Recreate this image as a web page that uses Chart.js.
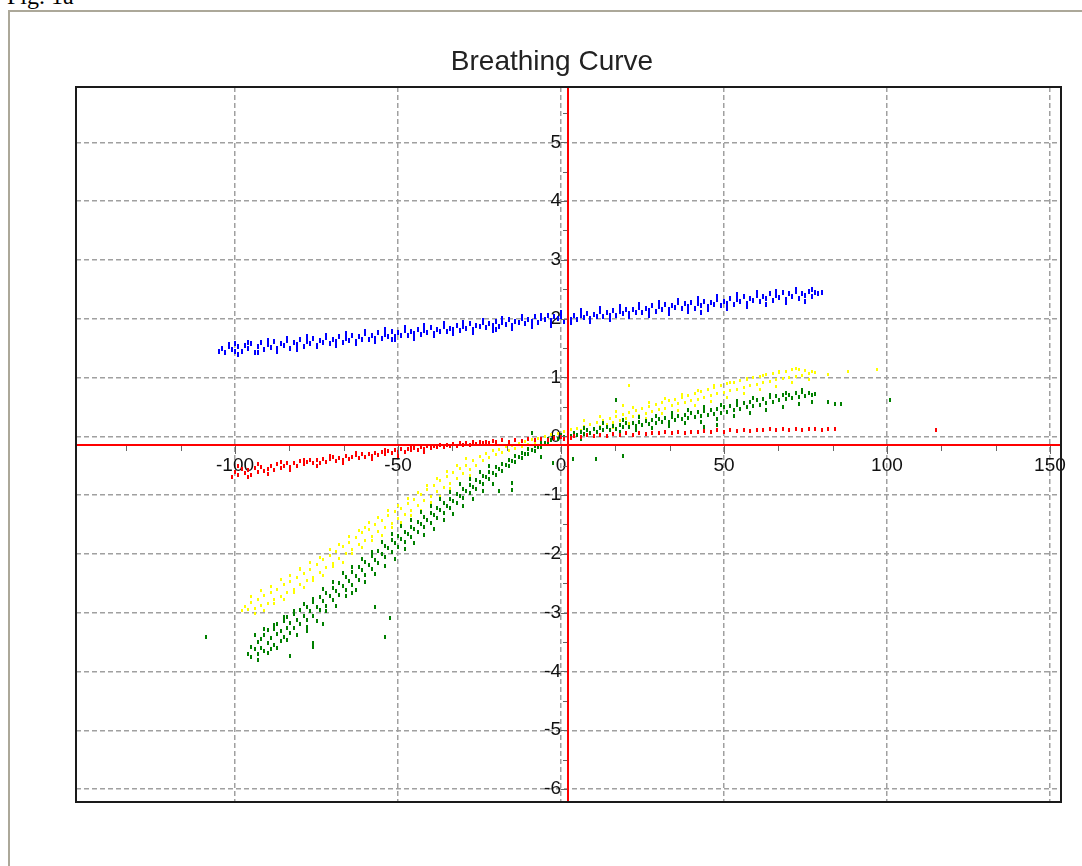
<!DOCTYPE html>
<html>
<head>
<meta charset="utf-8">
<title>Breathing Curve</title>
<script src="https://cdn.jsdelivr.net/npm/chart.js@4/dist/chart.umd.min.js"></script>
<style>
  html, body { margin: 0; padding: 0; background: #fff; overflow: hidden; }
  #fig { position: absolute; left: 7px; top: -16px; font: 24px "Liberation Serif", "Times New Roman", serif; line-height: 24px; color: #000; }
  #frame { position: absolute; left: 8px; top: 10px; width: 1200px; height: 1000px; border: 2px solid #aca899; }
  #title { position: absolute; left: 0; top: 44px; width: 1104px; text-align: center; font: 28px "Liberation Sans", Arial, sans-serif; line-height: 34px; color: #222; }
  #chart { position: absolute; left: 0; top: 0; }
</style>
</head>
<body>
<div id="fig">Fig. 1a</div>
<div id="frame"></div>
<canvas id="chart" width="1082" height="866"></canvas>
<div id="title">Breathing Curve</div>
<script>
// axis setup
const xTicks = [-100, -50, 0, 50, 100, 150];
const yTicks = [-6, -5, -4, -3, -2, -1, 0, 1, 2, 3, 4, 5];
const xLimits = [-148.8, 153.4];
const yLimits = [-6.22, 5.94];
const crossAt = [2.1, -0.14]; // red cross lines (x, y)

// point clouds, [x, y]
const bluePts = [
  [-105,1.44],[-104,1.50],[-103,1.43],[-102,1.53],[-101,1.47],[-100,1.45],[-100,1.58],[-99,1.52],[-98,1.44],[-97,1.54],
  [-96,1.50],[-95,1.57],[-94,1.43],[-93,1.53],[-92,1.60],[-91,1.48],[-90,1.56],[-89,1.51],[-88,1.62],[-87,1.49],
  [-86,1.58],[-85,1.54],[-84,1.63],[-83,1.50],[-82,1.59],[-81,1.47],[-81,1.56],[-80,1.65],[-79,1.53],[-78,1.61],
  [-77,1.57],[-76,1.67],[-75,1.55],[-74,1.63],[-73,1.59],[-72,1.68],[-71,1.58],[-70,1.65],[-69,1.61],[-68,1.70],
  [-67,1.60],[-66,1.67],[-65,1.63],[-64,1.72],[-63,1.62],[-62,1.69],[-61,1.65],[-60,1.74],[-59,1.64],[-58,1.71],
  [-57,1.67],[-56,1.76],[-55,1.66],[-54,1.73],[-53,1.70],[-52,1.78],[-52,1.65],[-51,1.69],[-50,1.76],[-49,1.72],
  [-48,1.80],[-47,1.71],[-46,1.78],[-45,1.74],[-44,1.82],[-43,1.73],[-42,1.80],[-41,1.77],[-40,1.85],[-39,1.75],
  [-38,1.82],[-37,1.79],[-36,1.87],[-35,1.78],[-34,1.84],[-33,1.81],[-32,1.89],[-31,1.80],[-30,1.87],[-29,1.84],
  [-28,1.91],[-27,1.82],[-26,1.89],[-25,1.86],[-24,1.93],[-23,1.85],[-22,1.91],[-21,1.88],[-20,1.96],[-20,1.81],
  [-19,1.87],[-18,1.94],[-17,1.90],[-16,1.98],[-15,1.89],[-14,1.96],[-13,1.93],[-12,2.00],[-11,1.92],[-10,1.98],
  [-9,1.95],[-8,2.03],[-7,1.94],[-6,2.01],[-5,1.98],[-4,2.05],[-3,1.97],[-2,2.03],[-1,2.00],
  [0,2.04],[1,1.96],[2,2.03],[3,1.99],[4,2.06],[5,1.98],[6,2.05],[7,2.02],[8,2.09],[9,2.01],
  [10,2.07],[11,2.04],[12,2.12],[13,2.03],[14,2.10],[15,2.06],[16,2.14],[17,2.05],[18,2.12],[19,2.09],
  [20,2.16],[21,2.08],[22,2.15],[23,2.11],[24,2.19],[25,2.10],[26,2.17],[27,2.14],[28,2.22],[29,2.12],
  [30,2.20],[31,2.16],[32,2.24],[33,2.15],[34,2.22],[35,2.19],[36,2.27],[37,2.17],[38,2.25],[39,2.21],
  [40,2.28],[41,2.18],[42,2.25],[43,2.10],[43,2.22],[44,2.30],[45,2.20],[46,2.28],[47,2.24],[48,2.33],
  [49,2.22],[50,2.30],[51,2.26],[52,2.35],[53,2.24],[54,2.32],[55,2.29],[56,2.38],[57,2.26],[58,2.35],
  [59,2.31],[60,2.40],[61,2.29],[62,2.37],[63,2.34],[64,2.42],[65,2.31],[66,2.39],[67,2.36],[68,2.44],
  [69,2.33],[70,2.42],[71,2.38],[72,2.46],[73,2.35],[74,2.43],[75,2.40],[76,2.47],[77,2.37],[78,2.44],
  [79,2.42],[80,2.44],
  // upper and lower edge of the band
  [-102,1.56],[-96,1.60],[-90,1.63],[-84,1.66],[-78,1.69],[-72,1.72],[-66,1.75],[-60,1.78],[-54,1.82],[-48,1.85],
  [-42,1.88],[-36,1.91],[-30,1.94],[-24,1.97],[-18,2.00],[-12,2.03],[-6,2.06],[0,2.11],[6,2.14],[12,2.17],
  [18,2.21],[24,2.24],[30,2.27],[36,2.31],[42,2.34],[48,2.37],[54,2.41],[60,2.44],[66,2.47],[72,2.50],[77,2.49],
  [-99,1.39],[-93,1.43],[-87,1.45],[-81,1.49],[-75,1.52],[-69,1.55],[-63,1.58],[-57,1.61],[-51,1.65],[-45,1.67],
  [-39,1.71],[-33,1.74],[-27,1.77],[-21,1.80],[-15,1.83],[-9,1.86],[-3,1.89],[3,1.93],[9,1.96],[15,1.99],
  [21,2.03],[27,2.05],[33,2.09],[39,2.12],[45,2.15],[51,2.18],[57,2.21],[63,2.24],[69,2.27],[75,2.30]
];

const yellowPts = [
  [-98,-2.97],[-97,-2.90],[-96,-2.95],[-95,-2.82],[-94,-2.93],[-93,-2.78],[-92,-2.88],[-91,-2.70],[-90,-2.84],[-89,-2.66],
  [-88,-2.78],[-87,-2.60],[-86,-2.72],[-85,-2.52],[-84,-2.66],[-83,-2.47],[-82,-2.60],[-81,-2.40],[-80,-2.52],[-80,-2.25],
  [-79,-2.33],[-78,-2.45],[-77,-2.27],[-76,-2.40],[-75,-2.18],[-74,-2.32],[-73,-2.10],[-72,-2.24],[-71,-2.02],[-70,-2.16],
  [-69,-1.96],[-68,-2.08],[-67,-1.88],[-66,-2.00],[-65,-1.80],[-64,-1.93],[-63,-1.72],[-62,-1.84],[-61,-1.63],[-60,-1.77],
  [-60,-1.55],[-59,-1.58],[-58,-1.70],[-57,-1.50],[-56,-1.62],[-55,-1.44],[-54,-1.56],[-53,-1.35],[-52,-1.48],[-51,-1.28],
  [-50,-1.40],[-49,-1.22],[-48,-1.33],[-47,-1.14],[-46,-1.26],[-45,-1.07],[-44,-1.18],[-43,-0.99],[-42,-1.10],[-41,-0.90],
  [-40,-1.02],[-39,-0.84],[-38,-0.94],[-37,-0.76],[-36,-0.87],[-35,-0.69],[-34,-0.80],[-33,-0.62],[-32,-0.72],[-31,-0.55],
  [-30,-0.64],[-29,-0.49],[-28,-0.57],[-27,-0.42],[-26,-0.50],[-25,-0.35],[-24,-0.42],[-23,-0.30],[-22,-0.36],[-21,-0.25],
  [-20,-0.31],[-19,-0.22],[-18,-0.28],[-17,-0.18],[-16,-0.24],[-15,-0.15],[-14,-0.21],[-13,-0.12],[-12,-0.17],[-11,-0.09],
  [-10,-0.14],[-9,-0.06],[-8,-0.11],[-7,-0.03],[-6,-0.07],[-5,0.00],[-4,-0.04],[-3,0.03],[-2,-0.01],[-1,0.05],
  [0,0.01],[1,0.08],[2,0.03],[3,0.11],[4,0.07],[5,0.14],[6,0.09],[7,0.17],[8,0.12],[9,0.20],
  [10,0.14],[11,0.23],[12,0.17],[13,0.26],[14,0.20],[15,0.30],[16,0.23],[17,0.33],[18,0.27],[19,0.37],
  [19,0.52],[20,0.30],[21,0.40],[21,0.86],[22,0.33],[23,0.43],[24,0.36],[25,0.47],[26,0.39],[27,0.50],
  [28,0.42],[29,0.54],[30,0.45],[31,0.57],[32,0.48],[33,0.60],[34,0.52],[35,0.63],[36,0.55],[37,0.66],
  [38,0.58],[39,0.70],[40,0.60],[41,0.73],[42,0.63],[43,0.76],[44,0.66],[45,0.80],[46,0.69],[47,0.83],
  [48,0.72],[49,0.86],[50,0.74],[51,0.89],[52,0.77],[53,0.92],[54,0.80],[55,0.95],[56,0.83],[57,0.97],
  [58,0.86],[59,1.00],[60,0.88],[61,1.02],[62,0.91],[63,1.05],[64,0.93],[65,1.07],[66,0.96],[67,1.09],
  [68,0.98],[69,1.11],[70,1.00],[71,1.13],[72,1.02],[73,1.14],[74,1.04],[75,1.12],[76,1.06],[77,1.10],
  [78,1.08],[82,1.05],[88,1.10],[97,1.13],
  // upper and lower edge of the band
  [-95,-2.72],[-92,-2.63],[-89,-2.56],[-86,-2.44],[-83,-2.37],[-80,-2.27],[-77,-2.14],[-74,-2.06],[-71,-1.93],[-68,-1.84],
  [-65,-1.70],[-62,-1.60],[-59,-1.47],[-56,-1.39],[-53,-1.27],[-50,-1.17],[-47,-1.05],[-44,-0.96],[-41,-0.83],[-38,-0.72],
  [-35,-0.60],[-32,-0.50],[-29,-0.38],
  [-94,-3.02],[-91,-2.96],[-88,-2.85],[-85,-2.77],[-82,-2.65],[-79,-2.58],[-76,-2.45],[-73,-2.37],[-70,-2.22],[-67,-2.15],
  [-64,-1.99],[-61,-1.90],[-58,-1.77],[-55,-1.69],[-52,-1.56],[-49,-1.47],[-46,-1.35],[-43,-1.26],[-40,-1.12],[-37,-1.03],
  [-34,-0.89],[-31,-0.80],[-28,-0.66],
  [7,0.26],[12,0.33],[17,0.42],[22,0.49],[27,0.57],[32,0.64],[37,0.71],[42,0.78],[47,0.86],[52,0.92],
  [57,0.99],[62,1.04],[67,1.10],[72,1.15],
  [6,0.00],[11,0.07],[16,0.15],[21,0.22],[26,0.30],[31,0.38],[36,0.44],[41,0.52],[46,0.59],[51,0.66],
  [56,0.73],[61,0.79],[66,0.85],[71,0.91],[76,0.96]
];

const greenPts = [
  [-109,-3.41],[-96,-3.70],[-95,-3.58],[-95,-3.76],[-94,-3.62],[-93,-3.50],[-93,-3.71],[-92,-3.44],[-92,-3.60],[-91,-3.66],
  [-91,-3.38],[-90,-3.52],[-90,-3.30],[-89,-3.61],[-89,-3.43],[-88,-3.28],[-88,-3.55],[-87,-3.37],[-87,-3.20],[-86,-3.48],
  [-86,-3.32],[-85,-3.15],[-85,-3.41],[-84,-3.26],[-84,-3.08],[-83,-3.35],[-83,-3.17],[-83,-3.73],[-82,-3.02],[-82,-3.26],
  [-81,-3.12],[-80,-2.96],[-80,-3.20],[-79,-3.05],[-78,-2.90],[-78,-3.13],[-78,-3.32],[-77,-2.97],[-76,-2.82],[-76,-3.06],
  [-76,-3.52],[-76,-3.58],[-75,-2.90],[-74,-2.74],[-74,-2.96],[-73,-2.81],[-73,-3.19],[-72,-2.66],[-72,-2.88],[-71,-2.72],
  [-70,-2.58],[-70,-2.79],[-69,-2.63],[-68,-2.49],[-68,-2.70],[-67,-2.55],[-66,-2.40],[-66,-2.61],[-65,-2.46],[-64,-2.31],
  [-64,-2.53],[-64,-2.67],[-63,-2.37],[-62,-2.22],[-62,-2.44],[-61,-2.28],[-60,-2.13],[-60,-2.36],[-59,-2.19],[-58,-2.04],
  [-58,-2.26],[-57,-2.10],[-57,-2.90],[-56,-1.95],[-56,-2.16],[-55,-2.00],[-54,-1.86],[-54,-2.06],[-54,-3.41],[-53,-1.90],
  [-52.5,-3.09],[-52,-1.77],[-52,-1.96],[-51,-1.82],[-50,-1.70],[-50,-1.88],[-49,-1.74],[-48,-1.62],[-48,-1.80],[-47,-1.66],
  [-46,-1.54],[-46,-1.72],[-45,-1.58],[-44,-1.46],[-44,-1.63],[-43,-1.50],[-42,-1.38],[-42,-1.55],[-41,-1.42],[-40,-1.31],
  [-40,-1.47],[-39,-1.34],[-38,-1.22],[-38,-1.39],[-37,-1.26],[-36,-1.14],[-36,-1.31],[-35,-1.18],[-34,-1.06],[-34,-1.22],
  [-33,-1.10],[-32,-0.98],[-32,-1.14],[-31,-1.02],[-30,-0.90],[-30,-1.05],[-29,-0.93],[-28,-0.83],[-28,-0.97],[-27,-0.86],
  [-26,-0.75],[-26,-0.89],[-25,-0.78],[-24,-0.68],[-24,-0.81],[-23,-0.70],[-22,-0.60],[-22,-0.73],[-21,-0.63],[-20,-0.53],
  [-20,-0.66],[-19,-0.56],[-19,-0.93],[-18,-0.47],[-18,-0.59],[-17,-0.49],[-16,-0.41],[-16,-0.51],[-15,-0.42],[-15,-0.79],
  [-15,-0.91],[-14,-0.34],[-14,-0.44],[-13,-0.36],[-12,-0.28],[-12,-0.37],[-11,-0.30],[-10,-0.22],[-10,-0.31],[-9,-0.24],
  [-9,0.06],[-8,-0.17],[-8,-0.25],[-7,-0.18],[-6,-0.11],[-6,-0.19],[-6,-0.36],[-5,-0.12],[-4,-0.05],[-4,-0.13],
  [-3,-0.06],[-2.5,-0.45],[-2,-0.01],[-1,-0.04],[0,0.02],[1,-0.01],[2,0.04],[3,0.01],[3.7,-0.38],[4,0.06],
  [5,0.02],[6,0.08],[7,0.04],[8,0.10],[9,0.06],[10,0.12],[10.7,-0.38],[11,0.08],[12,0.14],[13,0.10],
  [14,0.16],[15,0.11],[16,0.18],[17,0.13],[17,0.62],[18,0.20],[19,0.15],[19,-0.33],[20,0.22],[21,0.16],
  [22,0.23],[23,0.18],[24,0.25],[25,0.19],[26,0.26],[27,0.21],[28,0.28],[29,0.22],[30,0.29],[31,0.24],
  [32,0.31],[33,0.25],[34,0.33],[35,0.27],[36,0.35],[37,0.29],[38,0.37],[39,0.31],[40,0.39],[41,0.32],
  [42,0.41],[43,0.34],[44,0.43],[44,0.15],[45,0.36],[46,0.45],[47,0.38],[48,0.47],[48,0.20],[49,0.40],
  [50,0.49],[51,0.42],[52,0.51],[53,0.44],[54,0.53],[55,0.47],[56,0.56],[57,0.49],[58,0.59],[59,0.52],
  [60,0.61],[61,0.54],[62,0.63],[63,0.57],[64,0.66],[65,0.59],[66,0.68],[67,0.61],[68,0.70],[69,0.63],
  [70,0.71],[71,0.65],[72,0.73],[73,0.67],[74,0.75],[75,0.68],[76,0.74],[77,0.70],[78,0.72],[82,0.59],
  [84,0.55],[86,0.55],[101,0.62],
  // upper and lower edge of the band
  [-94,-3.38],[-91,-3.27],[-88,-3.21],[-85,-3.07],[-82,-2.98],[-79,-2.85],[-76,-2.76],[-73,-2.60],[-70,-2.48],[-67,-2.33],
  [-64,-2.23],[-61,-2.09],[-58,-1.97],[-55,-1.80],[-52,-1.67],[-49,-1.53],[-46,-1.42],[-43,-1.29],[-40,-1.19],[-37,-1.06],
  [-34,-0.95],[-31,-0.82],[-28,-0.72],[-25,-0.60],[-22,-0.50],
  [-93,-3.80],[-90,-3.68],[-87,-3.60],[-84,-3.47],[-81,-3.38],[-78,-3.25],[-75,-3.14],[-72,-2.98],[-69,-2.88],[-66,-2.72],
  [-63,-2.62],[-60,-2.47],[-57,-2.35],[-54,-2.20],[-51,-2.08],[-48,-1.92],[-45,-1.82],[-42,-1.68],[-39,-1.57],[-36,-1.43],
  [-33,-1.33],[-30,-1.18],[-27,-1.06],[-24,-0.93],[-21,-0.82],
  [7,0.14],[13,0.22],[19,0.27],[24,0.32],[29,0.35],[34,0.40],[39,0.45],[44,0.49],[49,0.54],[54,0.60],
  [59,0.65],[64,0.70],[69,0.74],[74,0.78],
  [6,-0.04],[12,0.03],[18,0.08],[23,0.10],[28,0.14],[33,0.17],[38,0.22],[43,0.25],[48,0.29],[53,0.34],
  [58,0.39],[63,0.44],[68,0.50],[73,0.55],[77,0.58]
];

const redPts = [
  [-101,-0.70],[-100,-0.60],[-99,-0.66],[-98,-0.56],[-97,-0.63],[-96,-0.58],[-95,-0.66],[-94,-0.54],[-93,-0.61],[-92,-0.52],
  [-91,-0.59],[-90,-0.55],[-89,-0.50],[-88,-0.57],[-87,-0.48],[-86,-0.54],[-85,-0.50],[-84,-0.46],[-83,-0.53],[-82,-0.45],
  [-81,-0.50],[-80,-0.42],[-79,-0.48],[-78,-0.44],[-77,-0.40],[-76,-0.46],[-75,-0.41],[-74,-0.45],[-73,-0.38],[-72,-0.43],
  [-71,-0.39],[-70,-0.36],[-69,-0.42],[-68,-0.37],[-67,-0.40],[-66,-0.34],[-65,-0.39],[-64,-0.35],[-63,-0.32],[-62,-0.37],
  [-61,-0.31],[-60,-0.35],[-59,-0.30],[-58,-0.33],[-57,-0.28],[-56,-0.32],[-55,-0.27],[-54,-0.30],[-53,-0.25],[-52,-0.29],
  [-51,-0.24],[-50,-0.27],[-49,-0.22],[-48,-0.26],[-47,-0.21],[-46,-0.24],[-45,-0.20],[-44,-0.23],[-43,-0.19],[-42,-0.21],
  [-41,-0.17],[-40,-0.20],[-39,-0.16],[-38,-0.19],[-37,-0.15],[-36,-0.18],[-35,-0.14],[-34,-0.17],[-33,-0.13],[-32,-0.16],
  [-31,-0.12],[-30,-0.15],[-29,-0.11],[-28,-0.14],[-27,-0.10],[-26,-0.13],[-25,-0.09],[-24,-0.12],[-23,-0.09],[-22,-0.11],
  [-21,-0.08],[-20,-0.10],[-18,-0.07],[-16,-0.09],[-14,-0.06],[-12,-0.08],[-10,-0.05],[-8,-0.07],[-6,-0.04],[-4,-0.06],
  [-2,-0.03],[0,-0.02],[1,-0.05],[2,-0.08],[3,-0.03],[4,0.01],[6,-0.01],[8,0.02],[10,0.00],[12,0.03],
  [14,0.01],[16,0.04],[18,0.02],[20,0.05],[22,0.03],[24,0.06],[26,0.04],[28,0.06],[30,0.05],[32,0.07],
  [34,0.05],[36,0.08],[38,0.06],[40,0.08],[42,0.07],[44,0.09],[46,0.07],[48,0.10],[50,0.08],[52,0.10],
  [54,0.09],[56,0.11],[58,0.09],[60,0.11],[62,0.10],[64,0.12],[66,0.10],[68,0.12],[70,0.11],[72,0.13],
  [74,0.11],[76,0.12],[78,0.13],[80,0.11],[82,0.12],[84,0.12],[115,0.11],
  // spread at the left end
  [-99,-0.50],[-96,-0.70],[-93,-0.48],[-90,-0.64],[-86,-0.44],[-83,-0.58],[-79,-0.40],[-75,-0.50],[-71,-0.34],[-67,-0.45],
  [-63,-0.29],[-58,-0.39],[-54,-0.24],[-50,-0.33],[-46,-0.19],[-42,-0.27]
];

const seriesColors = ['#ff0000', '#008000', '#ffff00', '#0000ff'];
const markHeights = [4, 4, 3, 5];

// small vertical dash used as the point marker
function makeMark(color, h) {
    const c = document.createElement('canvas');
    c.width = 2;
    c.height = h;
    const g = c.getContext('2d');
    g.fillStyle = color;
    g.fillRect(0, 0, 2, h);
    return c;
}

// red cross lines, small tick marks hanging off them, and the black frame
const crossPlugin = {
    id: 'crossLines',
    afterDatasetsDraw: function(chart) {
        const ctx = chart.ctx;
        const area = chart.chartArea;
        const xs = chart.scales.x;
        const ys = chart.scales.y;
        const px = Math.round(xs.getPixelForValue(crossAt[0]));
        const py = Math.round(ys.getPixelForValue(crossAt[1]));

        ctx.save();
        ctx.strokeStyle = '#666';
        ctx.lineWidth = 1;
        ctx.beginPath();
        // x ticks: majors every 50, minors at thirds
        for (let v = -150; v <= 150.01; v += 50 / 3) {
            const isMajor = Math.abs(v / 50 - Math.round(v / 50)) < 0.01;
            const p = Math.round(xs.getPixelForValue(v)) + 0.5;
            if (p < area.left || p > area.right) continue;
            ctx.moveTo(p, py);
            ctx.lineTo(p, py + (isMajor ? 9 : 6));
        }
        // y ticks: majors every 1, minors at halves
        for (let v = -6.5; v <= 6; v += 0.5) {
            const isMajor = Math.abs(v - Math.round(v)) < 0.01;
            const p = Math.round(ys.getPixelForValue(v)) + 0.5;
            if (p < area.top || p > area.bottom) continue;
            ctx.moveTo(px, p);
            ctx.lineTo(px - (isMajor ? 7 : 5), p);
        }
        ctx.stroke();

        ctx.strokeStyle = '#ff0000';
        ctx.lineWidth = 2;
        ctx.beginPath();
        ctx.moveTo(px, area.top);
        ctx.lineTo(px, area.bottom);
        ctx.moveTo(area.left, py);
        ctx.lineTo(area.right, py);
        ctx.stroke();
        ctx.restore();
    },
    afterDraw: function(chart) {
        const ctx = chart.ctx;
        const a = chart.chartArea;
        ctx.save();
        ctx.strokeStyle = '#1a1a1a';
        ctx.lineWidth = 2;
        ctx.strokeRect(a.left, a.top, a.right - a.left, a.bottom - a.top);
        ctx.restore();
    }
};

// centred axes should not eat any room from the plot area
function noRoom(scale) {
    scale.paddingLeft = 0;
    scale.paddingRight = 0;
    scale.paddingTop = 0;
    scale.paddingBottom = 0;
    if (scale.isHorizontal()) scale.height = 0; else scale.width = 0;
}

document.addEventListener('DOMContentLoaded', function() {
    const ctx = document.getElementById('chart').getContext('2d');
    const tickFont = { family: "'Liberation Sans', Arial, sans-serif", size: 19 };

    new Chart(ctx, {
        type: 'scatter',
        data: {
            datasets: [redPts, greenPts, yellowPts, bluePts].map(function(pts, i) {
                return {
                    data: pts,
                    backgroundColor: seriesColors[i],
                    borderWidth: 0,
                    pointStyle: makeMark(seriesColors[i], markHeights[i]),
                    pointRadius: 2,
                    pointHoverRadius: 2
                };
            })
        },
        options: {
            responsive: false,
            animation: false,
            devicePixelRatio: 1,
            events: [],
            layout: { padding: { left: 76, right: 21, top: 87, bottom: 64 } },
            plugins: {
                legend: { display: false },
                tooltip: { enabled: false },
                title: { display: false }
            },
            scales: {
                x: {
                    type: 'linear',
                    min: xLimits[0],
                    max: xLimits[1],
                    position: { y: 0 },
                    afterBuildTicks: function(scale) {
                        scale.ticks = xTicks.map(v => ({ value: v }));
                    },
                    afterFit: noRoom,
                    grid: { color: '#a0a0a0', lineWidth: 1.5, drawTicks: false },
                    border: { display: false, dash: [5, 3] },
                    ticks: {
                        color: '#111',
                        font: tickFont,
                        padding: 18,
                        maxRotation: 0,
                        autoSkip: false,
                        callback: v => String(v)
                    }
                },
                y: {
                    type: 'linear',
                    min: yLimits[0],
                    max: yLimits[1],
                    position: { x: 0 },
                    afterBuildTicks: function(scale) {
                        scale.ticks = yTicks.map(v => ({ value: v }));
                    },
                    afterFit: noRoom,
                    grid: { color: '#a0a0a0', lineWidth: 1.5, drawTicks: false },
                    border: { display: false, dash: [5, 3] },
                    ticks: {
                        color: '#111',
                        font: tickFont,
                        padding: 3,
                        autoSkip: false,
                        callback: v => String(v)
                    }
                }
            }
        },
        plugins: [crossPlugin]
    });
});
</script>
</body>
</html>
